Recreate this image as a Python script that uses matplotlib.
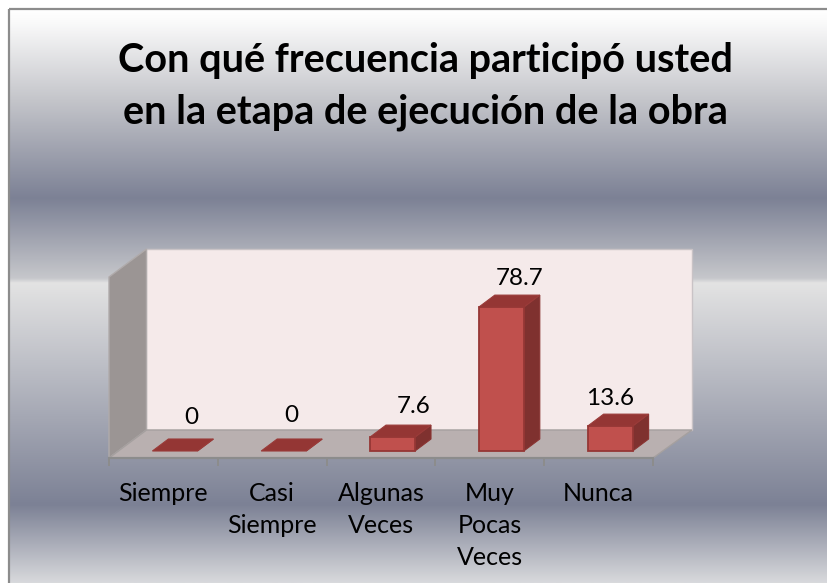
import matplotlib
matplotlib.use("Agg")
import matplotlib.pyplot as plt
import numpy as np
from matplotlib.colors import LinearSegmentedColormap
from matplotlib.patches import Polygon, Rectangle

categories = ["Siempre", "Casi\nSiempre", "Algunas\nVeces", "Muy\nPocas\nVeces", "Nunca"]
values = [0, 0, 7.6, 78.7, 13.6]
value_labels = ["0", "0", "7.6", "78.7", "13.6"]
title = "Con qué frecuencia participó usted\nen la etapa de ejecución de la obra"

W, H = 828, 583
plt.rcParams["font.family"] = ["Lato", "DejaVu Sans"]
fig = plt.figure(figsize=(W / 100, H / 100), dpi=100, facecolor="white")

# Background gradient with frame
stops = [(10, "#ffffff"), (22, "#fafafa"), (100, "#c4c5ca"), (198, "#7c8195"), (278, "#c6c7cb"),
         (283, "#e3e3e3"), (505, "#7c8195"), (583, "#d8d9dc")]
bg = fig.add_axes([0, 0, 1, 1], zorder=0)
bg.set_xlim(0, W)
bg.set_ylim(H, 0)
bg.axis("off")
cmap = LinearSegmentedColormap.from_list(
    "bands", [((y - 10) / (H - 10), c) for y, c in stops], N=512)
bg.imshow(np.linspace(0, 1, 512).reshape(-1, 1), extent=(10, W, H, 10), aspect="auto", cmap=cmap, vmin=0, vmax=1)
bg.set_xlim(0, W)
bg.set_ylim(H, 0)
bg.add_patch(Rectangle((9.5, 9), W, H, fill=False, ec="#8c8c8c", lw=1.6))
bg.text(425, 86.5, title, ha="center", va="center", fontsize=28.5, fontweight="bold",
        color="black", linespacing=1.47)

# Plot front plane: x 109..653 px, y 458..277 px
YMAX = 99
ax = fig.add_axes([109 / W, 1 - 458 / H, 544 / W, 181 / H], zorder=1)
ax.set_xlim(-0.5, 4.5)
ax.set_ylim(0, YMAX)
ax.patch.set_alpha(0)
for s in ax.spines.values():
    s.set_visible(False)
ax.set_yticks([])
ax.set_xticks(np.arange(-0.5, 5, 1))
ax.tick_params(axis="x", which="major", length=5.8, width=1.4, color="#8c8c8c", labelbottom=False)
ax.set_xticks(np.arange(5), minor=True)
ax.set_xticklabels(categories, minor=True, fontsize=18, linespacing=1.49, color="black", va="top")
ax.tick_params(axis="x", which="minor", length=0, pad=17)

PX_X = 5 / 544      # categories per pixel
PX_Y = YMAX / 181   # value units per pixel


def pt(x_cat, val, dx_px=0.0, dy_px=0.0):
    return (x_cat + dx_px * PX_X, val + dy_px * PX_Y)


def poly(pts, fc, ec="none", lw=0, z=2):
    ax.add_patch(Polygon(pts, closed=True, fc=fc, ec=ec, lw=lw, zorder=z, clip_on=False, joinstyle="miter"))


# Walls and floor
L, R, T = -0.5, 4.5, YMAX
BX, BY = 37.5, 28
poly([pt(L, T, BX, BY), pt(R, T, BX + 1.5, BY), pt(R, 0, BX + 1.5, BY), pt(L, 0, BX, BY)],
     "#f5eaea", "#c9c3c6", 1.0, 1)
poly([pt(L, 0), pt(L, T), pt(L, T, BX, BY), pt(L, 0, BX, BY)], "#9b9594", "#b0abab", 1.0, 1.1)
poly([pt(L, 0), pt(R, 0), pt(R, 0, BX + 1.5, BY), pt(L, 0, BX, BY)], "#b9b0b0", "#a5a09f", 1.0, 1.2)
ax.plot([L, R], [0, 0], color="#8c8c8c", lw=1.6, clip_on=False, zorder=1.3)

# Bars
HALF, FDX, FDY, DX, DY = 22.5, 11.5, 7, 16, 12
for i, (v, lab) in enumerate(zip(values, value_labels)):
    xl, yb0 = pt(i, 0, FDX - HALF, FDY)
    xr, _ = pt(i, 0, FDX + HALF, FDY)
    yt = v + FDY * PX_Y
    ddx, ddy = DX * PX_X, DY * PX_Y
    poly([(xr, yb0), (xr + ddx, yb0 + ddy), (xr + ddx, yt + ddy), (xr, yt)], "#7f312f", "#8a3432", 0.8, 3)
    poly([(xl, yt), (xr, yt), (xr + ddx, yt + ddy), (xl + ddx, yt + ddy)], "#943634", "#9a3b39", 0.8, 3.1)
    if v > 0:
        poly([(xl, yb0), (xr, yb0), (xr, yt), (xl, yt)], "#c0504d", "#953735", 1.3, 3.2)

# Data labels
label_dx = [16, 8, 21, 18, 0]
label_dy = [33, 35, 31, 29, 28]
for i, (v, lab) in enumerate(zip(values, value_labels)):
    ax.annotate(lab, (i, v), xytext=(FDX + label_dx[i], FDY + label_dy[i]), textcoords="offset pixels",
                ha="center", va="center", fontsize=17.5, color="black", zorder=5, annotation_clip=False)

fig.savefig("out.png", dpi=100)
